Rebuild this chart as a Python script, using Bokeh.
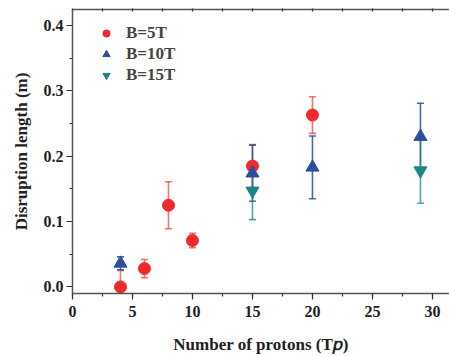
from bokeh.plotting import figure
from bokeh.models import (ColumnDataSource, Whisker, TeeHead, LinearAxis, Range1d,
                          Legend, LegendItem, SingleIntervalTicker, FixedTicker)
from bokeh.embed import file_html
from bokeh.resources import INLINE

# ---- data ----
x_5t = [4, 6, 8, 10, 15, 20]
y_5t = [0.0, 0.028, 0.125, 0.071, 0.185, 0.263]
e_5t = [0.025, 0.014, 0.036, 0.011, 0.033, 0.028]

x_10t = [4, 15, 20, 29]
y_10t = [0.036, 0.174, 0.183, 0.230]
e_10t = [0.010, 0.043, 0.048, 0.051]

x_15t = [15, 29]
y_15t = [0.147, 0.178]
e_15t = [0.044, 0.050]

labels = ["B=5T", "B=10T", "B=15T"]
x_ticks = [0, 5, 10, 15, 20, 25, 30]
y_ticks = [0.0, 0.1, 0.2, 0.3, 0.4]

FONT = "Liberation Serif"
RED = "#ee2a2a"
BLUE = "#2f4c9e"
TEAL = "#1b8585"

p = figure(width=449, height=356, output_backend="svg", toolbar_location=None,
           x_range=Range1d(0, 31.42), y_range=Range1d(-0.0101, 0.4246),
           min_border_left=72, min_border_right=0, min_border_top=9,
           min_border_bottom=63)
p.grid.visible = False
p.outline_line_color = None
p.background_fill_color = "white"
p.border_fill_color = "white"


def series(xs, ys, es, marker, color, bar_color, bar_alpha, size):
    src = ColumnDataSource(dict(x=xs, y=ys,
                                lo=[y - e for y, e in zip(ys, es)],
                                hi=[y + e for y, e in zip(ys, es)]))
    w = Whisker(base="x", upper="hi", lower="lo", source=src,
                line_color=bar_color, line_alpha=bar_alpha, line_width=1.6,
                upper_head=TeeHead(size=7, line_color=bar_color, line_alpha=bar_alpha, line_width=1.6),
                lower_head=TeeHead(size=7, line_color=bar_color, line_alpha=bar_alpha, line_width=1.6))
    p.add_layout(w)
    r = p.scatter("x", "y", source=src, marker=marker, size=size,
                  fill_color=color, line_color=color)
    return r


r1 = series(x_5t, y_5t, e_5t, "circle", RED, RED, 0.65, 12)
r2 = series(x_10t, y_10t, e_10t, "triangle", BLUE, BLUE, 0.85, 13)
r3 = series(x_15t, y_15t, e_15t, "inverted_triangle", TEAL, TEAL, 0.75, 13)

legend = Legend(items=[LegendItem(label=labels[0], renderers=[r1]),
                       LegendItem(label=labels[1], renderers=[r2]),
                       LegendItem(label=labels[2], renderers=[r3])],
                location="top_left", margin=14, padding=0, spacing=1,
                glyph_width=40, glyph_height=18, label_height=18,
                label_standoff=0, background_fill_alpha=0,
                border_line_color=None,
                label_text_font=FONT, label_text_font_style="bold",
                label_text_font_size="17px")
p.add_layout(legend)

for ax in (p.xaxis[0], p.yaxis[0]):
    ax.axis_line_color = "#555555"
    ax.axis_line_width = 1.5
    ax.major_tick_line_color = "#333333"
    ax.minor_tick_line_color = "#333333"
    ax.major_tick_line_width = 1.2
    ax.minor_tick_line_width = 1.2
    ax.major_tick_in = 0
    ax.major_tick_out = 6
    ax.minor_tick_in = 0
    ax.minor_tick_out = 3
    ax.major_label_text_font = FONT
    ax.major_label_text_font_style = "bold"
    ax.major_label_text_font_size = "16px"
    ax.major_label_text_color = "#222222"
    ax.axis_label_text_font = FONT
    ax.axis_label_text_font_style = "bold"
    ax.axis_label_text_font_size = "17px"
    ax.axis_label_text_color = "#222222"

p.xaxis[0].ticker = SingleIntervalTicker(interval=5, num_minor_ticks=2)
p.yaxis[0].ticker = SingleIntervalTicker(interval=0.1, num_minor_ticks=2)
p.yaxis[0].major_label_overrides = {t: f"{t:.1f}" for t in y_ticks}
p.xaxis[0].axis_label = "Number of protons (T\U0001D45D)"
p.yaxis[0].axis_label = "Disruption length (m)"
p.xaxis[0].major_label_standoff = 6
p.yaxis[0].major_label_standoff = 3
p.xaxis[0].axis_label_standoff = 15
p.yaxis[0].axis_label_standoff = 10

top_minor = sorted(set(x_ticks + [t + 2.5 for t in x_ticks]))
top = LinearAxis(ticker=FixedTicker(ticks=[], minor_ticks=top_minor),
                 major_label_standoff=0,
                 major_tick_in=0, major_tick_out=0, minor_tick_in=2, minor_tick_out=1,
                 axis_line_color="#555555", axis_line_width=1.5,
                 minor_tick_line_color="#333333", minor_tick_line_width=1.2)
p.add_layout(top, "above")

open("out.html", "w").write(file_html(p, INLINE))
